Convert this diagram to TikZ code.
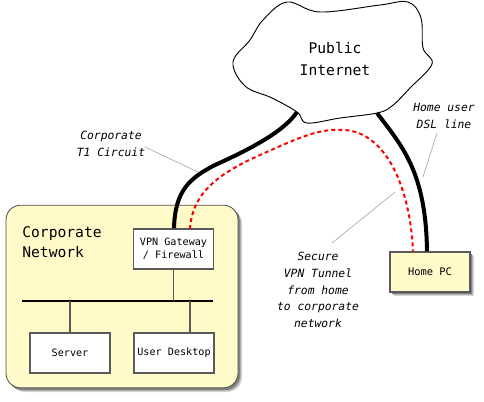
\documentclass[tikz,border=0pt]{standalone}
\usepackage{fontspec}
\setmainfont{DejaVu Sans Mono}
\setmonofont{DejaVu Sans Mono}
\definecolor{netyellow}{RGB}{255,250,200}
\definecolor{boxgray}{RGB}{90,90,90}
\definecolor{leader}{RGB}{170,170,170}
\begin{document}
\begin{tikzpicture}[x=0.75pt,y=-0.75pt,
  whitebox/.style={draw=boxgray,line width=1.1pt,fill=white,minimum width=60pt,minimum height=30pt,inner sep=1pt,align=center,font=\fontsize{7.6}{10}\selectfont},
  pcbox/.style={draw=boxgray,line width=1.1pt,fill=netyellow,minimum width=60pt,minimum height=30pt,inner sep=1pt,align=center,font=\fontsize{7.8}{10}\selectfont},
  lbl/.style={align=center,font=\fontsize{8.5}{12.5}\selectfont\itshape},
  leadline/.style={draw=leader,line width=0.5pt},
  thickline/.style={line width=3pt},
  tunnel/.style={red,line width=1.5pt,dash pattern=on 3pt off 2.3pt},
  busline/.style={boxgray,line width=1pt}]
\useasboundingbox (0,0) rectangle (484,401);
% corporate network
\foreach \o/\c in {4/15,3/30,2/50}{
  \fill[black!\c,rounded corners=11pt] (6+\o,205+\o) rectangle (238+\o,388+\o);}
\node[draw=black!70,line width=0.6pt,fill=netyellow,rounded corners=11pt,minimum width=174pt,minimum height=137pt,inner sep=0pt] (corp) at (122,296.5) {};
\node[anchor=west,align=left,font=\fontsize{11}{15}\selectfont,inner sep=0pt] (corptxt) at (22,242) {Corporate\\Network};
% gateway, server, desktop
\node[whitebox] (gw) at (173.5,249) {VPN Gateway\\/ Firewall};
\node[whitebox] (srv) at (70,353) {Server};
\node[whitebox] (desk) at (174,353) {User Desktop};
\coordinate (busL) at (22,301);
\coordinate (busR) at (213,301);
\draw[line width=1.8pt] (busL) -- (busR);
\draw[busline] (gw.south) -- (gw.south |- busL);
\draw[busline] (70,301) -- (srv.north);
\draw[busline] (190,301) -- (desk.north -| 190,0);
% home PC
\foreach \o/\c in {4/15,3/30,2/50}{
  \fill[black!\c] (390+\o,252+\o) rectangle (470+\o,292+\o);}
\node[pcbox] (pc) at (430,272) {Home PC};
% cloud
\draw[line width=0.7pt,fill=white] plot[smooth cycle,tension=0.6] coordinates {
  (287,2) (320,12) (380,5) (408,2) (421,18) (423,48) (432,64) (410,88) (392,106) (377,113) (340,118) (307,123) (297,112) (272,98) (245,86) (233,62) (250,40) (263,20)};
\node[font=\fontsize{11}{16.5}\selectfont,align=center] (cloud) at (335,59) {Public\\Internet};
\coordinate (cloudT1) at (297,112);
\coordinate (cloudDSL) at (377,113);
% connections
\draw[thickline] (gw.north -| 174,0) .. controls (175,190) and (190,178) .. (215,165) .. controls (255,147) and (285,130) .. (cloudT1);
\draw[thickline] (cloudDSL) .. controls (402,146) and (426,172) .. (pc.north -| 427,0);
\draw[tunnel] (190,229) .. controls (192,195) and (215,175) .. (260,155) .. controls (300,137) and (320,128) .. (345,130) .. controls (385,133) and (410,185) .. (pc.north -| 413,0);
% labels
\node[lbl] (t1lbl) at (111,144) {Corporate\\T1 Circuit};
\node[lbl] (dsllbl) at (444,116) {Home user\\DSL line};
\node[lbl] (vpnlbl) at (318,290) {Secure\\VPN Tunnel\\from home\\to corporate\\network};
\coordinate (t1a) at (145,147); \coordinate (t1b) at (198,172);
\coordinate (dsla) at (437,133); \coordinate (dslb) at (423,177);
\coordinate (vpna) at (332,243); \coordinate (vpnb) at (395,192);
\draw[leadline] (t1a) -- (t1b);
\draw[leadline] (dsla) -- (dslb);
\draw[leadline] (vpna) -- (vpnb);
\end{tikzpicture}
\end{document}
